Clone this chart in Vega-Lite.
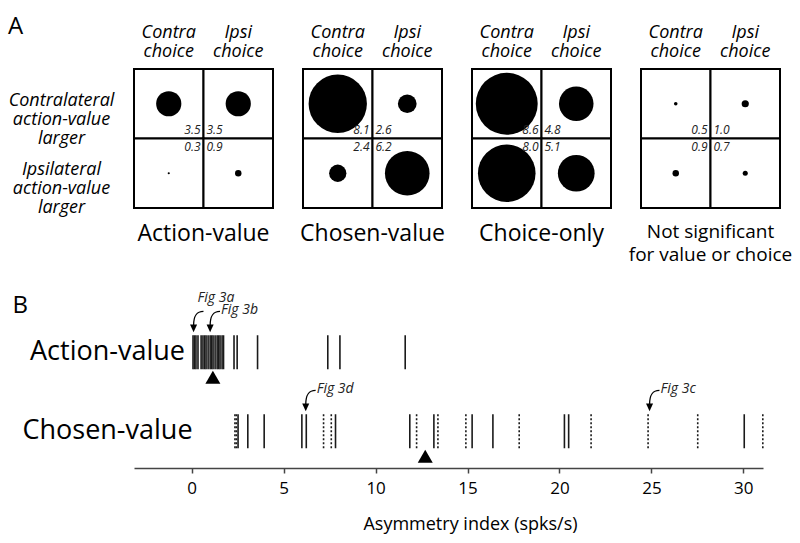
{
  "$schema": "https://vega.github.io/schema/vega-lite/v6.json",
  "padding": {"left": 8, "top": 15, "right": 5, "bottom": 2},
  "config": {
    "font": "Open Sans",
    "view": {"stroke": null},
    "axis": {"labelColor": "black", "titleColor": "black", "grid": false},
    "title": {"color": "black", "fontWeight": "normal"}
  },
  "datasets": {
    "cells": [
      {"panel": "Action-value", "choice": "Contra choice", "row": "Contralateral action-value larger", "value": 3.5},
      {"panel": "Action-value", "choice": "Ipsi choice", "row": "Contralateral action-value larger", "value": 3.5},
      {"panel": "Action-value", "choice": "Contra choice", "row": "Ipsilateral action-value larger", "value": 0.3},
      {"panel": "Action-value", "choice": "Ipsi choice", "row": "Ipsilateral action-value larger", "value": 0.9},
      {"panel": "Chosen-value", "choice": "Contra choice", "row": "Contralateral action-value larger", "value": 8.1},
      {"panel": "Chosen-value", "choice": "Ipsi choice", "row": "Contralateral action-value larger", "value": 2.6},
      {"panel": "Chosen-value", "choice": "Contra choice", "row": "Ipsilateral action-value larger", "value": 2.4},
      {"panel": "Chosen-value", "choice": "Ipsi choice", "row": "Ipsilateral action-value larger", "value": 6.2},
      {"panel": "Choice-only", "choice": "Contra choice", "row": "Contralateral action-value larger", "value": 8.6},
      {"panel": "Choice-only", "choice": "Ipsi choice", "row": "Contralateral action-value larger", "value": 4.8},
      {"panel": "Choice-only", "choice": "Contra choice", "row": "Ipsilateral action-value larger", "value": 8.0},
      {"panel": "Choice-only", "choice": "Ipsi choice", "row": "Ipsilateral action-value larger", "value": 5.1},
      {"panel": "Not significant for value or choice", "choice": "Contra choice", "row": "Contralateral action-value larger", "value": 0.5},
      {"panel": "Not significant for value or choice", "choice": "Ipsi choice", "row": "Contralateral action-value larger", "value": 1.0},
      {"panel": "Not significant for value or choice", "choice": "Contra choice", "row": "Ipsilateral action-value larger", "value": 0.9},
      {"panel": "Not significant for value or choice", "choice": "Ipsi choice", "row": "Ipsilateral action-value larger", "value": 0.7}
    ],
    "ticks": [
      {"track": "Action-value", "kind": "I", "value": 0.07},
      {"track": "Action-value", "kind": "I", "value": 0.15},
      {"track": "Action-value", "kind": "I", "value": 0.23},
      {"track": "Action-value", "kind": "I", "value": 0.34},
      {"track": "Action-value", "kind": "I", "value": 0.51},
      {"track": "Action-value", "kind": "I", "value": 0.61},
      {"track": "Action-value", "kind": "I", "value": 0.7},
      {"track": "Action-value", "kind": "I", "value": 0.78},
      {"track": "Action-value", "kind": "I", "value": 0.89},
      {"track": "Action-value", "kind": "I", "value": 1.0},
      {"track": "Action-value", "kind": "I", "value": 1.08},
      {"track": "Action-value", "kind": "I", "value": 1.16},
      {"track": "Action-value", "kind": "I", "value": 1.27},
      {"track": "Action-value", "kind": "I", "value": 1.38},
      {"track": "Action-value", "kind": "I", "value": 1.46},
      {"track": "Action-value", "kind": "I", "value": 1.54},
      {"track": "Action-value", "kind": "I", "value": 1.65},
      {"track": "Action-value", "kind": "I", "value": 1.73},
      {"track": "Action-value", "kind": "I", "value": 2.3},
      {"track": "Action-value", "kind": "I", "value": 2.47},
      {"track": "Action-value", "kind": "I", "value": 3.58},
      {"track": "Action-value", "kind": "I", "value": 7.4},
      {"track": "Action-value", "kind": "I", "value": 8.06},
      {"track": "Action-value", "kind": "I", "value": 11.61},
      {"track": "Chosen-value", "kind": "II", "value": 2.35},
      {"track": "Chosen-value", "kind": "II", "value": 2.43},
      {"track": "Chosen-value", "kind": "I", "value": 2.52},
      {"track": "Chosen-value", "kind": "I", "value": 3.05},
      {"track": "Chosen-value", "kind": "I", "value": 3.94},
      {"track": "Chosen-value", "kind": "I", "value": 5.99},
      {"track": "Chosen-value", "kind": "I", "value": 6.23},
      {"track": "Chosen-value", "kind": "II", "value": 7.17},
      {"track": "Chosen-value", "kind": "II", "value": 7.59},
      {"track": "Chosen-value", "kind": "I", "value": 7.82},
      {"track": "Chosen-value", "kind": "I", "value": 11.86},
      {"track": "Chosen-value", "kind": "II", "value": 12.23},
      {"track": "Chosen-value", "kind": "I", "value": 13.17},
      {"track": "Chosen-value", "kind": "II", "value": 13.39},
      {"track": "Chosen-value", "kind": "II", "value": 14.91},
      {"track": "Chosen-value", "kind": "I", "value": 15.25},
      {"track": "Chosen-value", "kind": "I", "value": 16.38},
      {"track": "Chosen-value", "kind": "II", "value": 17.81},
      {"track": "Chosen-value", "kind": "I", "value": 20.27},
      {"track": "Chosen-value", "kind": "I", "value": 20.5},
      {"track": "Chosen-value", "kind": "II", "value": 21.72},
      {"track": "Chosen-value", "kind": "II", "value": 24.82},
      {"track": "Chosen-value", "kind": "II", "value": 27.52},
      {"track": "Chosen-value", "kind": "I", "value": 30.05},
      {"track": "Chosen-value", "kind": "II", "value": 31.06}
    ],
    "medians": [
      {"track": "Action-value", "value": 1.15},
      {"track": "Chosen-value", "value": 12.7}
    ],
    "annotations": [
      {"track": "Action-value", "value": 0.1, "label": "Fig 3a"},
      {"track": "Action-value", "value": 1.0, "label": "Fig 3b"},
      {"track": "Chosen-value", "value": 6.2, "label": "Fig 3d"},
      {"track": "Chosen-value", "value": 24.9, "label": "Fig 3c"}
    ]
  },
  "columns": 1,
  "spacing": 26,
  "concat": [
    {
      "data": {"name": "cells"},
      "title": {"text": "A", "anchor": "start", "frame": "bounds", "fontSize": 24, "offset": -16},
      "facet": {
        "column": {
          "field": "panel", "type": "nominal",
          "sort": ["Action-value", "Chosen-value", "Choice-only", "Not significant for value or choice"],
          "header": {
            "title": null, "labelOrient": "bottom", "labelPadding": 14,
            "labelFontSize": {"expr": "parent.panel == 'Not significant for value or choice' ? 19 : 23"},
            "labelColor": "black", "labelBaseline": "top", "labelLineHeight": 23,
            "labelExpr": "datum.value == 'Not significant for value or choice' ? ['Not significant', 'for value or choice'] : datum.value"
          }
        }
      },
      "spacing": 28,
      "spec": {
        "width": 139,
        "height": 139,
        "encoding": {
          "x": {
            "field": "choice", "type": "nominal", "sort": ["Contra choice", "Ipsi choice"],
            "scale": {"type": "band", "paddingInner": 0, "paddingOuter": 0},
            "axis": {"orient": "top", "title": null, "domain": false, "ticks": false, "labelAngle": 0,
              "labelFontSize": 18, "labelFontStyle": "italic", "labelLineHeight": 19, "labelPadding": 27,
              "labelExpr": "split(datum.label, ' ')"}
          },
          "y": {
            "field": "row", "type": "nominal", "sort": ["Contralateral action-value larger", "Ipsilateral action-value larger"],
            "scale": {"type": "band", "paddingInner": 0, "paddingOuter": 0},
            "axis": {"title": null, "domain": false, "ticks": false, "labelAngle": 0,
              "labelFontSize": 18, "labelFontStyle": "italic", "labelLineHeight": 19, "labelPadding": 72,
              "labelAlign": "center", "labelBaseline": "middle", "labelOffset": -3,
              "labelExpr": "split(datum.label, ' ')"}
          }
        },
        "layer": [
          {"mark": {"type": "rect", "fill": "white", "stroke": "black", "strokeWidth": 2}},
          {
            "mark": {"type": "circle", "color": "black", "opacity": 1},
            "encoding": {"size": {"field": "value", "type": "quantitative", "legend": null,
              "scale": {"type": "pow", "exponent": 2, "domain": [0, 10], "range": [0, 5184]}}}
          },
          {
            "transform": [{"filter": "datum.choice == 'Contra choice' && datum.row == 'Contralateral action-value larger'"}],
            "mark": {"type": "text", "align": "right", "baseline": "bottom", "dx": -3, "dy": -2, "fontSize": 12, "fontStyle": "italic", "color": "#222"},
            "encoding": {
              "x": {"field": "choice", "type": "nominal", "bandPosition": 1},
              "y": {"field": "row", "type": "nominal", "bandPosition": 1},
              "text": {"field": "value", "type": "quantitative", "format": ".1f"}
            }
          },
          {
            "transform": [{"filter": "datum.choice == 'Ipsi choice' && datum.row == 'Contralateral action-value larger'"}],
            "mark": {"type": "text", "align": "left", "baseline": "bottom", "dx": 3, "dy": -2, "fontSize": 12, "fontStyle": "italic", "color": "#222"},
            "encoding": {
              "x": {"field": "choice", "type": "nominal", "bandPosition": 0},
              "y": {"field": "row", "type": "nominal", "bandPosition": 1},
              "text": {"field": "value", "type": "quantitative", "format": ".1f"}
            }
          },
          {
            "transform": [{"filter": "datum.choice == 'Contra choice' && datum.row == 'Ipsilateral action-value larger'"}],
            "mark": {"type": "text", "align": "right", "baseline": "top", "dx": -3, "dy": 3, "fontSize": 12, "fontStyle": "italic", "color": "#222"},
            "encoding": {
              "x": {"field": "choice", "type": "nominal", "bandPosition": 1},
              "y": {"field": "row", "type": "nominal", "bandPosition": 0},
              "text": {"field": "value", "type": "quantitative", "format": ".1f"}
            }
          },
          {
            "transform": [{"filter": "datum.choice == 'Ipsi choice' && datum.row == 'Ipsilateral action-value larger'"}],
            "mark": {"type": "text", "align": "left", "baseline": "top", "dx": 3, "dy": 3, "fontSize": 12, "fontStyle": "italic", "color": "#222"},
            "encoding": {
              "x": {"field": "choice", "type": "nominal", "bandPosition": 0},
              "y": {"field": "row", "type": "nominal", "bandPosition": 0},
              "text": {"field": "value", "type": "quantitative", "format": ".1f"}
            }
          }
        ]
      }
    },
    {
      "width": 629,
      "height": 158,
      "encoding": {
        "x": {
          "field": "value", "type": "quantitative",
          "scale": {"domain": [-3.14, 31.07], "nice": false, "zero": false},
          "axis": {"values": [0, 5, 10, 15, 20, 25, 30], "title": "Asymmetry index (spks/s)",
            "titleFontSize": 18, "titleFontWeight": "normal", "titlePadding": 19,
            "titleX": 336, "titleAlign": "center",
            "labelFontSize": 17, "labelPadding": 7, "domainColor": "#444", "domainWidth": 1.5,
            "tickColor": "#444", "tickWidth": 1.5, "tickSize": 5}
        },
        "y": {
          "field": "track", "type": "nominal", "sort": ["Action-value", "Chosen-value"],
          "scale": {"type": "band", "domain": ["Action-value", "Chosen-value"], "paddingInner": 0, "paddingOuter": 0},
          "axis": {"domain": false, "ticks": false, "labelFontSize": 27,
            "labelAlign": "center", "labelBaseline": "middle", "labelPadding": 27, "labelOffset": 2,
            "title": "B", "titleAngle": 0, "titleFontSize": 24, "titleFontWeight": "normal",
            "titleAlign": "left", "titleBaseline": "alphabetic", "titleX": -122, "titleY": 2}
        }
      },
      "layer": [
        {
          "data": {"name": "ticks"},
          "mark": {"type": "rule", "strokeWidth": 1.6, "color": "#1a1a1a"},
          "encoding": {
            "y": {"field": "track", "type": "nominal", "bandPosition": 0.32},
            "y2": {"field": "track", "bandPosition": 0.75},
            "strokeDash": {"field": "kind", "type": "nominal", "legend": null,
              "scale": {"domain": ["I", "II"], "range": [[1, 0], [2, 2]]}}
          }
        },
        {
          "data": {"name": "medians"},
          "mark": {"type": "point", "shape": "triangle-up", "filled": true, "color": "black", "opacity": 1, "size": 225},
          "encoding": {"y": {"field": "track", "type": "nominal", "bandPosition": 0.85}}
        },
        {
          "data": {"name": "annotations"},
          "mark": {"type": "point", "shape": "M0.9,-0.9 C0.25,-0.9 0,-0.5 0,0.4", "filled": false, "color": "black", "strokeWidth": 1.3, "opacity": 1, "size": 484, "yOffset": -14},
          "encoding": {"y": {"field": "track", "type": "nominal", "bandPosition": 0.32}}
        },
        {
          "data": {"name": "annotations"},
          "mark": {"type": "point", "shape": "M-0.32,0.3 L0.32,0.3 L0,1 Z", "filled": true, "color": "black", "opacity": 1, "size": 484, "yOffset": -14},
          "encoding": {"y": {"field": "track", "type": "nominal", "bandPosition": 0.32}}
        },
        {
          "data": {"name": "annotations"},
          "transform": [{"filter": "datum.label != 'Fig 3a'"}],
          "mark": {"type": "text", "align": "left", "baseline": "middle", "dx": 11, "dy": -25, "fontSize": 14, "fontStyle": "italic", "color": "#222"},
          "encoding": {
            "y": {"field": "track", "type": "nominal", "bandPosition": 0.32},
            "text": {"field": "label", "type": "nominal"}
          }
        },
        {
          "data": {"name": "annotations"},
          "transform": [{"filter": "datum.label == 'Fig 3a'"}],
          "mark": {"type": "text", "align": "left", "baseline": "middle", "dx": 4, "dy": -37, "fontSize": 14, "fontStyle": "italic", "color": "#222"},
          "encoding": {
            "y": {"field": "track", "type": "nominal", "bandPosition": 0.32},
            "text": {"field": "label", "type": "nominal"}
          }
        }
      ]
    }
  ]
}
